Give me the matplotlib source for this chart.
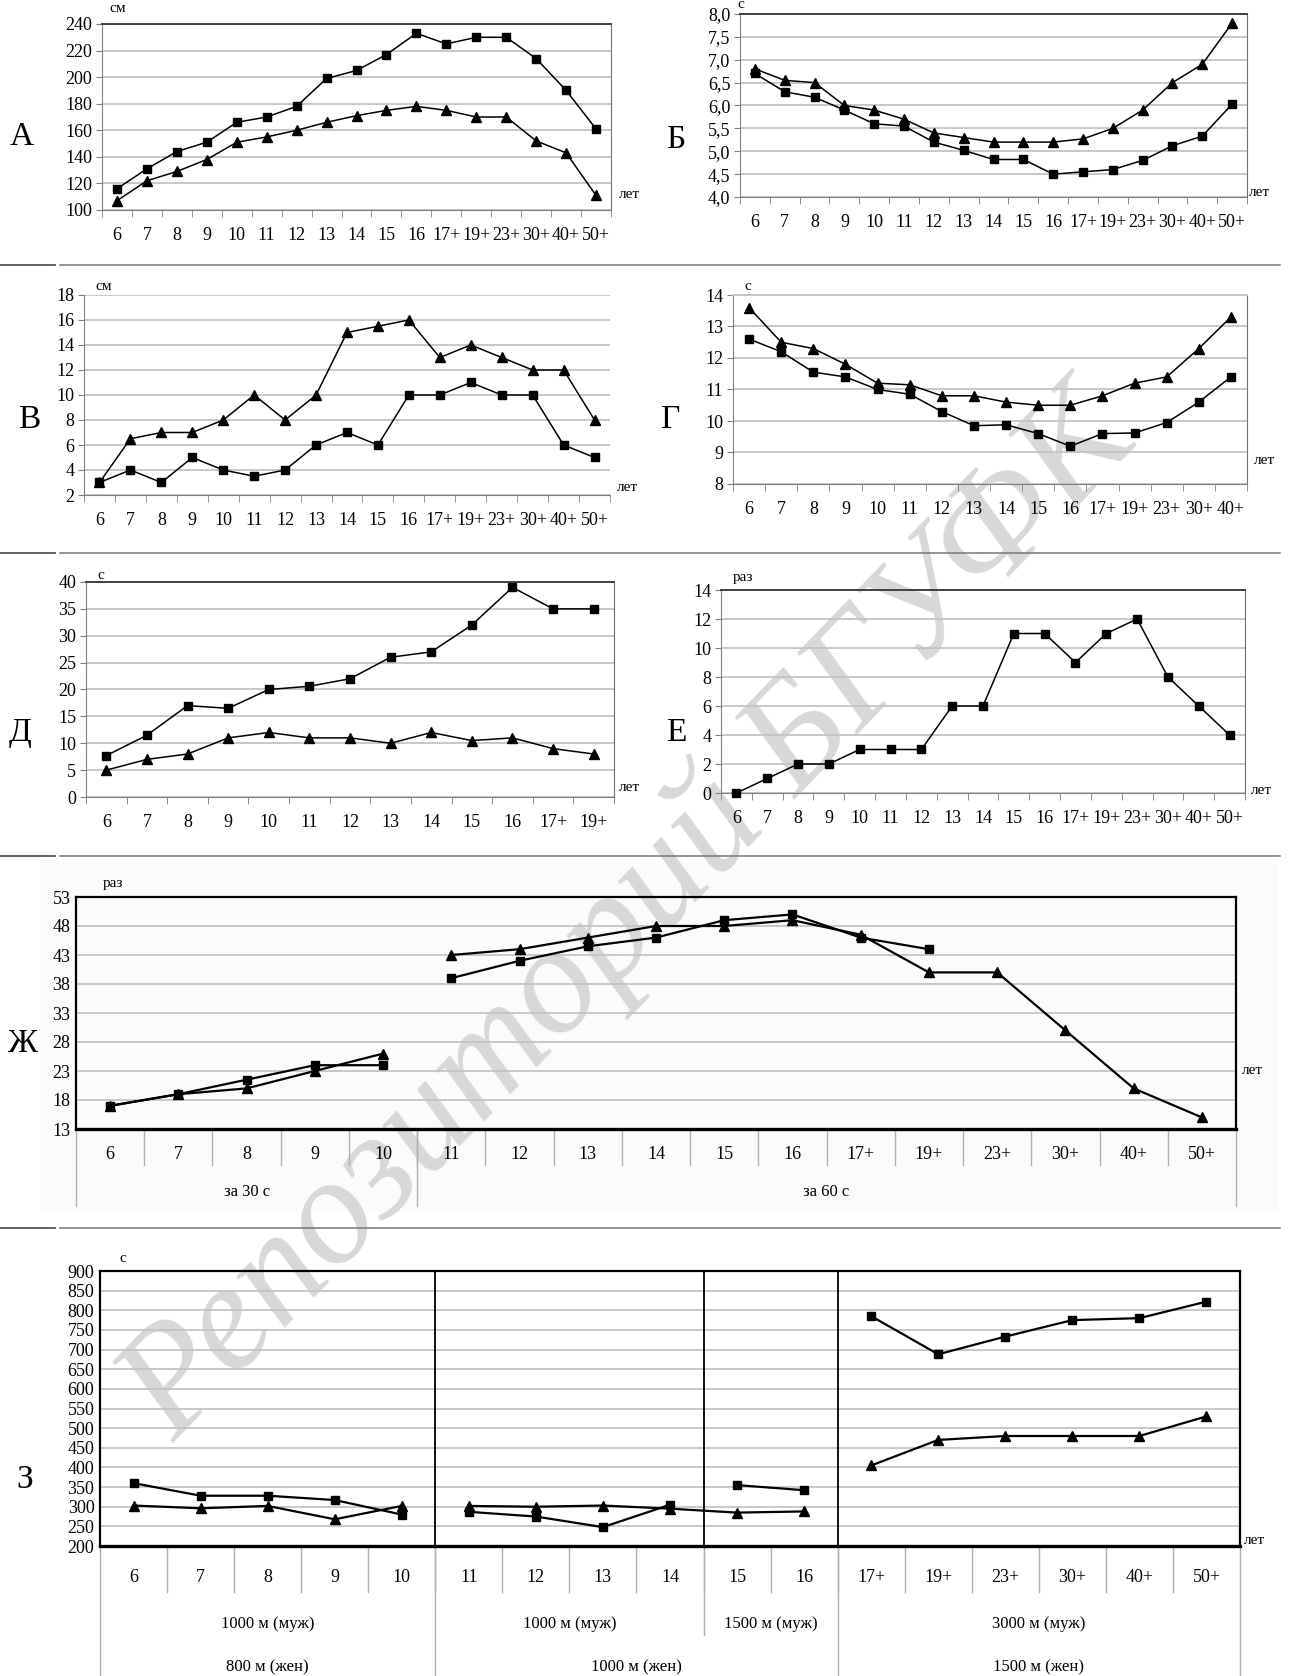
import matplotlib.pyplot as plt
from matplotlib.ticker import MultipleLocator, FuncFormatter
import numpy as np

plt.rcParams['font.family'] = ['Liberation Serif', 'DejaVu Serif']

W, H = 1290, 1676

ages = ["6", "7", "8", "9", "10", "11", "12", "13", "14", "15", "16",
        "17+", "19+", "23+", "30+", "40+", "50+"]
ages_g = ages[:16]
ages_d = ages[:13]

# А - см
a_sq = [116, 131, 144, 151, 166, 170, 178, 199, 205, 217, 233, 225, 230, 230, 214, 190, 161]
a_tr = [107, 122, 129, 138, 151, 155, 160, 166, 171, 175, 178, 175, 170, 170, 152, 143, 111]
# Б - с
b_tr = [6.8, 6.55, 6.5, 6.0, 5.9, 5.7, 5.4, 5.3, 5.2, 5.2, 5.2, 5.27, 5.5, 5.9, 6.5, 6.9, 7.8]
b_sq = [6.7, 6.3, 6.18, 5.9, 5.6, 5.55, 5.2, 5.02, 4.82, 4.82, 4.5, 4.55, 4.6, 4.8, 5.12, 5.33, 6.03]
# В - см
v_tr = [3, 6.5, 7, 7, 8, 10, 8, 10, 15, 15.5, 16, 13, 14, 13, 12, 12, 8]
v_sq = [3, 4, 3, 5, 4, 3.5, 4, 6, 7, 6, 10, 10, 11, 10, 10, 6, 5]
# Г - с
g_tr = [13.6, 12.5, 12.3, 11.8, 11.2, 11.15, 10.8, 10.8, 10.6, 10.5, 10.5, 10.8, 11.2, 11.4, 12.3, 13.3]
g_sq = [12.6, 12.2, 11.55, 11.4, 11.0, 10.85, 10.3, 9.85, 9.88, 9.6, 9.2, 9.6, 9.62, 9.95, 10.6, 11.4]
# Д - с
d_sq = [7.7, 11.5, 17, 16.5, 20, 20.6, 22, 26, 27, 32, 39, 35, 35]
d_tr = [5, 7, 8, 11, 12, 11, 11, 10, 12, 10.5, 11, 9, 8]
# Е - раз
e_sq = [0, 1, 2, 2, 3, 3, 3, 6, 6, 11, 11, 9, 11, 12, 8, 6, 4]
# Ж - раз
n = np.nan
zh_sq = [17, 19, 21.5, 24, 24, 39, 42, 44.5, 46, 49, 50, 46, 44, n, n, n, n]
zh_tr = [17, 19, 20, 23, 26, 43, 44, 46, 48, 48, 49, 46.5, 40, 40, 30, 20, 15]
zh_yticks = [13, 18, 23, 28, 33, 38, 43, 48, 53]
zh_groups = ["за 30 с", "за 60 с"]
# З - с
z_sq = [360, 328, 328, 317, 280, 287, 275, 248, 305, 355, 342, 785, 688, 733, 775, 780, 822]
z_tr = [303, 296, 302, 268, 302, 302, 300, 303, 295, 285, 288, 405, 470, 480, 480, 480, 530]
z_row2 = ["1000 м (муж)", "1000 м (муж)", "1500 м (муж)", "3000 м (муж)"]
z_row3 = ["800 м (жен)", "1000 м (жен)", "1500 м (жен)"]

fig = plt.figure(figsize=(W / 100, H / 100), dpi=100)


def box(l, t, r, b):
    return [l / W, 1 - b / H, (r - l) / W, (b - t) / H]


def ftext(x, y, s, size=12, ha='left', va='center', **kw):
    fig.text(x / W, 1 - y / H, s, fontsize=size, ha=ha, va=va, **kw)


def small_panel(px, cats, series, ylim, ystep, fmt=None, frame=True):
    ax = fig.add_axes(box(*px))
    ax.set_facecolor('none')
    x = np.arange(len(cats))
    for vals, m, ms in series:
        ax.plot(x, vals, color='black', lw=1.1, marker=m, ms=ms, zorder=3, clip_on=False)
    ax.set_xlim(-0.5, len(cats) - 0.5)
    ax.set_ylim(*ylim)
    ax.yaxis.set_major_locator(MultipleLocator(ystep))
    if fmt:
        ax.yaxis.set_major_formatter(FuncFormatter(fmt))
    ax.grid(axis='y', color='#c4c4c4', lw=1.3)
    ax.set_axisbelow(True)
    ax.set_xticks(x)
    ax.set_xticklabels(cats)
    ax.set_xticks(np.arange(len(cats) + 1) - 0.5, minor=True)
    ax.tick_params(axis='x', which='major', length=0, pad=12, labelsize=13)
    ax.tick_params(axis='x', which='minor', length=5, color='#808080')
    ax.tick_params(axis='y', length=4, color='#808080', labelsize=13, pad=3)
    for s in ['left', 'bottom']:
        ax.spines[s].set_color('#808080')
    if frame:
        ax.spines['top'].set_color('#404040')
        ax.spines['top'].set_linewidth(1.4)
        ax.spines['right'].set_color('#707070')
    else:
        ax.spines['top'].set_visible(False)
        ax.spines['right'].set_visible(False)
    return ax


def big_panel(px, cats, series, ylim, yticks):
    ax = fig.add_axes(box(*px))
    ax.set_facecolor('none')
    x = np.arange(len(cats))
    for vals, m, ms, groups in series:
        vals = np.array(vals, dtype=float)
        for a, b in groups:
            ax.plot(x[a:b], vals[a:b], color='black', lw=1.6, marker=m, ms=ms, zorder=3)
    ax.set_xlim(-0.5, len(cats) - 0.5)
    ax.set_ylim(*ylim)
    ax.set_yticks(yticks)
    ax.grid(axis='y', color='#c4c4c4', lw=1.3)
    ax.set_axisbelow(True)
    ax.set_xticks([])
    ax.tick_params(axis='y', length=0, labelsize=13, pad=4)
    for s in ax.spines.values():
        s.set_color('black')
        s.set_linewidth(1.6)
    ax.spines['bottom'].set_linewidth(2.4)
    return ax


def table_line(ax, xv, y0, y1):
    ax.plot([xv, xv], [y0, y1], color='#b0b0b0', lw=1.0,
            transform=ax.get_xaxis_transform(), clip_on=False)


def ylab(v):
    return f"{v:.1f}".replace('.', ',')


# faint chart-area background behind Ж
fig.add_artist(plt.Rectangle((40 / W, 1 - 1212 / H), 1238 / W, 350 / H,
                             facecolor='#fbfbfb', edgecolor='none', zorder=-10))

# watermark behind everything
fig.text(630 / W, 1 - 916 / H, "Репозиторий БГУФК", rotation=46, fontsize=110,
         style='italic', color='#d8d8d8', ha='center', va='center',
         rotation_mode='anchor', zorder=-5)

# separators between rows
for yy in [265, 553, 856, 1228]:
    fig.add_artist(plt.Line2D([0, 55 / W], [1 - yy / H] * 2, color='#555555', lw=1.3))
    fig.add_artist(plt.Line2D([60 / W, 1280 / W], [1 - yy / H] * 2, color='#777777', lw=1.1))

# А
small_panel((102, 24, 611, 210), ages, [(a_sq, 's', 6), (a_tr, '^', 6.5)], (100, 240), 20)
ftext(22, 137, "А", 24, ha='center')
ftext(109, 9, "см", 11)
ftext(619, 195, "лет", 11)

# Б
small_panel((740, 14, 1247, 197), ages, [(b_tr, '^', 6.5), (b_sq, 's', 6)], (4.0, 8.0), 0.5,
            fmt=lambda v, p: ylab(v))
ftext(676, 140, "Б", 24, ha='center')
ftext(737, 4, "с", 11)
ftext(1249, 193, "лет", 11)

# В
small_panel((84, 295, 610, 495), ages, [(v_tr, '^', 6.5), (v_sq, 's', 6)], (2, 18), 2, frame=False)
ftext(29, 420, "В", 24, ha='center')
ftext(95, 287, "см", 11)
ftext(617, 487, "лет", 11)

# Г
axg = small_panel((733, 295, 1247, 484), ages_g, [(g_tr, '^', 6.5), (g_sq, 's', 6)], (8, 14), 1)
axg.spines['top'].set_color('#c4c4c4')
ftext(671, 420, "Г", 24, ha='center')
ftext(744, 287, "с", 11)
ftext(1254, 460, "лет", 11)

# Д
small_panel((86, 582, 614, 797), ages_d, [(d_sq, 's', 6), (d_tr, '^', 6.5)], (0, 40), 5)
ftext(20, 733, "Д", 24, ha='center')
ftext(97, 575, "с", 11)
ftext(619, 787, "лет", 11)

# Е
small_panel((721, 590, 1245, 793), ages, [(e_sq, 's', 6)], (0, 14), 2)
ftext(676, 733, "Е", 24, ha='center')
ftext(733, 578, "раз", 11)
ftext(1251, 790, "лет", 11)

# Ж
axzh = big_panel((76, 897, 1236, 1129), ages,
                 [(zh_sq, 's', 6, [(0, 5), (5, 17)]), (zh_tr, '^', 7, [(0, 5), (5, 17)])],
                 (13, 53), zh_yticks)
tr = axzh.get_xaxis_transform()
for i, c in enumerate(ages):
    axzh.text(i, -0.112, c, transform=tr, ha='center', va='center', fontsize=13)
for b in np.arange(0.5, 16, 1):
    table_line(axzh, b, 0, -0.155)
for b in [-0.5, 4.5, 16.5]:
    table_line(axzh, b, 0, -0.33)
axzh.text(2, -0.27, zh_groups[0], transform=tr, ha='center', va='center', fontsize=12)
axzh.text(10.5, -0.27, zh_groups[1], transform=tr, ha='center', va='center', fontsize=12)
ftext(23, 1044, "Ж", 24, ha='center')
ftext(103, 883, "раз", 11)
ftext(1242, 1070, "лет", 11)

# З
axz = big_panel((100, 1271, 1240, 1546), ages,
                [(z_sq, 's', 6, [(0, 5), (5, 9), (9, 11), (11, 17)]),
                 (z_tr, '^', 7, [(0, 5), (5, 11), (11, 17)])],
                (200, 900), np.arange(200, 901, 50))
for b in [4.5, 8.5, 10.5]:
    axz.axvline(b, color='black', lw=1.3)
tr = axz.get_xaxis_transform()
for i, c in enumerate(ages):
    axz.text(i, -0.116, c, transform=tr, ha='center', va='center', fontsize=13)
for b in np.arange(0.5, 16, 1):
    table_line(axz, b, 0, -0.167)
for b in [8.5]:
    table_line(axz, b, 0, -0.324)
for b in [-0.5, 4.5, 10.5, 16.5]:
    table_line(axz, b, 0, -0.48)
for xc, s in zip([2, 6.5, 9.5, 13.5], z_row2):
    axz.text(xc, -0.284, s, transform=tr, ha='center', va='center', fontsize=12)
for xc, s in zip([2, 7.5, 13.5], z_row3):
    axz.text(xc, -0.44, s, transform=tr, ha='center', va='center', fontsize=12)
ftext(25, 1480, "З", 24, ha='center')
ftext(119, 1258, "с", 11)
ftext(1244, 1540, "лет", 11)

fig.savefig("out.png", dpi=100)
